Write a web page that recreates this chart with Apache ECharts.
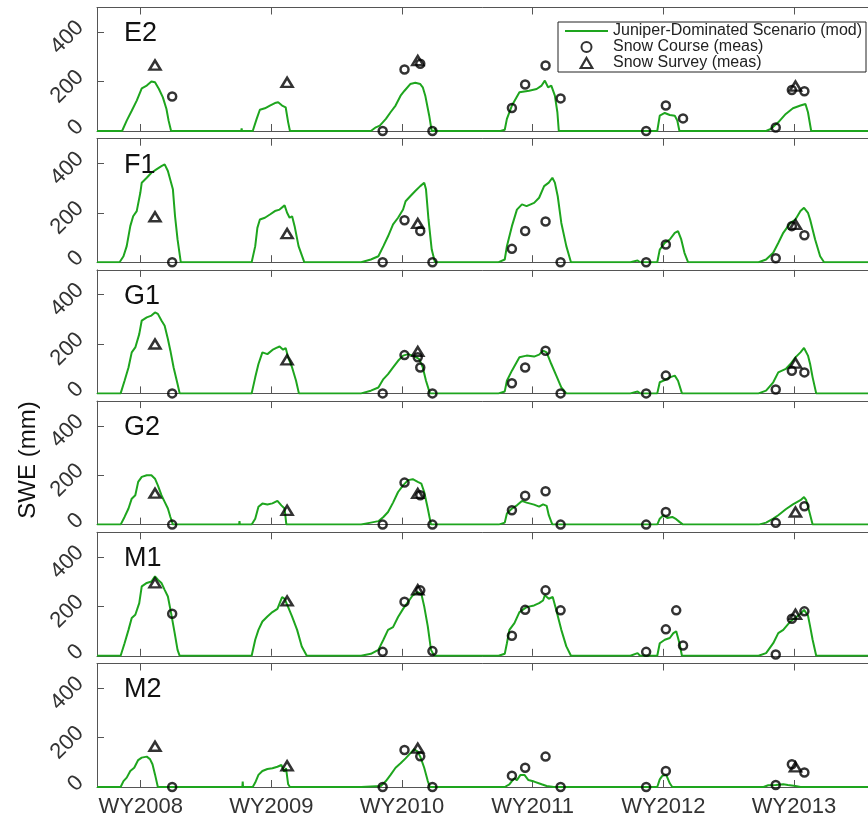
<!DOCTYPE html>
<html><head><meta charset="utf-8">
<script src="https://cdn.jsdelivr.net/npm/echarts@6/dist/echarts.min.js"></script>
<style>html,body{margin:0;padding:0;background:#fff}#c{width:868px;height:819px}</style>
</head><body><div id="c"></div>
<script>
// ---------------- DATA ----------------
const sites = ['E2', 'F1', 'G1', 'G2', 'M1', 'M2'];
const waterYears = [2008, 2009, 2010, 2011, 2012, 2013];
const tickLabels = ['WY2008', 'WY2009', 'WY2010', 'WY2011', 'WY2012', 'WY2013'];
const yTicks = [0, 200, 400];
const seriesNames = ['Juniper-Dominated Scenario (mod)', 'Snow Course (meas)', 'Snow Survey (meas)'];

// modelled SWE (mm): one array per water year, points are [day relative to 1 Jan of the WY, SWE]
const modE2 = [
  [[-52,0],[-39,42],[-25,82],[-11,123],[3,173],[17,184],[30,200],[40,197],[51,170],[62,136],[72,89],[78,42],[85,0]],
  [[-84,0],[-83,11],[-82,0],[-52,0],[-41,49],[-32,86],[-18,92],[-4,103],[10,113],[19,116],[30,103],[40,96],[47,35],[52,0]],
  [[-87,0],[-73,15],[-62,22],[-45,49],[-32,76],[-18,103],[-4,143],[7,163],[23,190],[37,195],[51,190],[58,177],[65,143],[76,62],[83,0],[91,0],[92,12],[93,0]],
  [[-90,0],[-78,5],[-72,49],[-58,103],[-37,157],[-10,163],[11,170],[25,184],[34,204],[43,177],[52,184],[62,143],[69,76],[73,0]],
  [[-17,0],[-10,62],[4,73],[18,65],[32,62],[39,42],[45,0]],
  [[-78,0],[-65,8],[-44,35],[-23,69],[-3,92],[18,103],[32,109],[39,76],[48,0]]
];
const modF1 = [
  [[-59,0],[-48,24],[-39,65],[-29,146],[-21,186],[-11,207],[-1,281],[3,322],[17,342],[30,362],[44,376],[58,389],[67,396],[76,369],[81,376],[90,295],[96,186],[103,92],[112,0]],
  [[-55,0],[-45,65],[-39,139],[-32,173],[-18,180],[-4,193],[10,207],[23,213],[37,230],[44,200],[51,180],[58,186],[65,146],[76,65],[92,0]],
  [[-114,0],[-87,11],[-66,24],[-52,65],[-39,105],[-25,153],[-11,180],[3,213],[10,247],[23,267],[37,288],[51,308],[62,322],[67,295],[74,173],[83,51],[92,0]],
  [[-95,0],[-78,11],[-72,65],[-58,146],[-44,213],[-30,234],[-17,227],[4,240],[18,261],[32,308],[45,322],[55,342],[62,322],[70,267],[80,159],[94,65],[107,0]],
  [[-92,0],[-72,7],[-65,0],[-17,0],[-10,51],[4,78],[18,92],[32,119],[41,126],[50,92],[59,38],[69,0]],
  [[-99,0],[-78,11],[-58,38],[-44,78],[-30,119],[-10,159],[4,173],[18,207],[28,220],[39,200],[45,173],[59,92],[73,24],[84,0]]
];
const modG1 = [
  [[-56,0],[-45,51],[-34,105],[-25,166],[-15,186],[-4,240],[3,295],[17,308],[30,315],[40,328],[48,322],[58,295],[67,274],[76,220],[83,173],[92,105],[103,38],[109,0]],
  [[-55,0],[-45,65],[-36,119],[-25,166],[-11,159],[3,176],[14,184],[23,190],[33,177],[40,184],[47,146],[58,105],[69,51],[77,0]],
  [[-114,0],[-87,11],[-66,24],[-52,58],[-39,78],[-25,105],[-11,132],[3,153],[17,159],[30,153],[40,146],[48,139],[58,105],[67,51],[78,0]],
  [[-95,0],[-78,8],[-72,51],[-58,92],[-37,146],[-17,153],[4,149],[18,157],[29,173],[39,166],[52,119],[66,72],[80,24],[94,0]],
  [[-92,0],[-72,8],[-65,0],[-17,0],[-10,45],[4,54],[18,65],[32,72],[41,51],[52,0]],
  [[-99,0],[-78,11],[-58,45],[-44,85],[-23,99],[-10,119],[4,146],[18,166],[28,184],[39,153],[45,119],[52,65],[62,0]]
];
const modG2 = [
  [[-56,0],[-45,31],[-34,65],[-25,105],[-15,119],[-7,173],[3,193],[17,200],[30,200],[40,186],[48,159],[58,119],[67,92],[76,65],[83,31],[90,0]],
  [[-90,0],[-89,14],[-88,0],[-55,0],[-45,24],[-36,72],[-25,85],[-11,81],[3,86],[17,96],[28,78],[37,65],[41,65],[42,0]],
  [[-114,0],[-87,8],[-66,14],[-52,31],[-39,51],[-25,89],[-11,132],[3,159],[17,180],[30,184],[44,173],[54,166],[62,132],[72,65],[81,0]],
  [[-95,0],[-78,8],[-72,45],[-58,65],[-44,78],[-30,96],[-17,89],[4,81],[18,73],[29,82],[39,76],[45,38],[55,0]],
  [[-17,0],[-10,24],[0,38],[11,27],[25,31],[36,22],[45,11],[55,0]],
  [[-99,0],[-78,8],[-58,24],[-44,38],[-23,62],[-3,82],[18,99],[28,112],[34,99],[43,51],[52,0]]
];
const modM1 = [
  [[-56,0],[-45,51],[-34,105],[-25,153],[-15,166],[-4,213],[3,281],[17,295],[30,301],[40,322],[48,308],[58,295],[67,267],[76,240],[85,173],[95,92],[103,24],[109,0]],
  [[-55,0],[-45,65],[-36,105],[-25,139],[-11,159],[3,177],[17,190],[30,238],[37,231],[47,197],[58,159],[72,105],[85,38],[99,0]],
  [[-114,0],[-87,8],[-66,24],[-52,65],[-39,105],[-25,116],[-11,157],[3,190],[17,218],[30,245],[44,258],[54,251],[62,200],[72,119],[81,24],[90,0]],
  [[-95,0],[-78,8],[-72,51],[-65,105],[-51,132],[-37,177],[-17,197],[4,204],[18,213],[29,224],[34,245],[45,231],[56,238],[66,184],[80,105],[94,38],[107,0]],
  [[-92,0],[-72,11],[-65,0],[-17,0],[-10,51],[4,65],[18,72],[28,92],[36,99],[45,51],[52,0]],
  [[-99,0],[-78,11],[-58,51],[-44,92],[-30,105],[-10,139],[4,154],[18,170],[28,186],[39,163],[45,119],[52,65],[62,0]]
];
const modM2 = [
  [[-56,0],[-48,24],[-39,38],[-29,65],[-18,78],[-7,109],[3,119],[17,123],[26,113],[33,92],[40,51],[48,0]],
  [[-81,0],[-80,22],[-79,0],[-52,0],[-45,18],[-36,49],[-25,65],[-11,73],[3,76],[17,82],[28,89],[36,62],[41,76],[47,11],[52,0]],
  [[-114,0],[-59,4],[-45,24],[-32,49],[-18,78],[-4,96],[10,116],[23,136],[34,153],[44,143],[51,123],[62,78],[72,24],[78,0]],
  [[-78,0],[-65,11],[-58,24],[-51,35],[-44,28],[-34,49],[-23,49],[-12,28],[4,22],[25,11],[39,4],[59,0]],
  [[-17,0],[-10,31],[-3,45],[8,49],[18,15],[25,0]],
  [[-85,0],[-72,7],[-51,8],[-30,11],[-17,8],[4,4],[18,0]]
];

// measurements: [water year, day relative to 1 Jan, SWE mm]
const courseE2 = [[2008,88,140],[2010,-54,0],[2010,7,249],[2010,51,272],[2010,85,0],[2011,-58,93],[2011,-21,188],[2011,36,265],[2011,78,132],[2012,-48,0],[2012,7,103],[2012,55,51],[2013,-51,14],[2013,-6,166],[2013,29,161]];
const surveyE2 = [[2008,40,267],[2009,44,197],[2010,44,285],[2013,4,182]];
const courseF1 = [[2008,88,0],[2010,-54,0],[2010,7,170],[2010,51,126],[2010,85,0],[2011,-58,54],[2011,-21,126],[2011,36,165],[2011,78,0],[2012,-48,0],[2012,7,72],[2013,-51,16],[2013,-6,146],[2013,29,109]];
const surveyF1 = [[2008,40,184],[2009,44,116],[2010,44,157],[2013,4,153]];
const courseG1 = [[2008,88,0],[2010,-54,0],[2010,7,155],[2010,44,146],[2010,51,105],[2010,85,0],[2011,-58,41],[2011,-21,105],[2011,36,173],[2011,78,0],[2012,-48,0],[2012,7,72],[2013,-51,16],[2013,-6,92],[2013,29,85]];
const surveyG1 = [[2008,40,200],[2009,44,136],[2010,44,170],[2013,4,123]];
const courseG2 = [[2008,88,0],[2010,-54,0],[2010,7,170],[2010,51,119],[2010,85,0],[2011,-58,58],[2011,-21,117],[2011,36,135],[2011,78,0],[2012,-48,0],[2012,7,51],[2013,-51,7],[2013,29,74]];
const surveyG2 = [[2008,40,127],[2009,44,58],[2010,44,126],[2013,4,51]];
const courseM1 = [[2008,88,170],[2010,-54,16],[2010,7,219],[2010,51,265],[2010,85,19],[2011,-58,81],[2011,-21,186],[2011,36,265],[2011,78,184],[2012,-48,16],[2012,7,107],[2012,36,184],[2012,55,42],[2013,-51,5],[2013,-6,150],[2013,29,180]];
const surveyM1 = [[2008,40,295],[2009,44,222],[2010,44,267],[2013,4,168]];
const courseM2 = [[2008,88,0],[2010,-54,0],[2010,7,150],[2010,51,124],[2010,85,0],[2011,-58,46],[2011,-21,78],[2011,36,123],[2011,78,0],[2012,-48,0],[2012,7,65],[2013,-51,8],[2013,-6,92],[2013,29,59]];
const surveyM2 = [[2008,40,165],[2009,44,86],[2010,44,157],[2013,4,81]];

const modelBySite = [modE2, modF1, modG1, modG2, modM1, modM2];
const courseBySite = [courseE2, courseF1, courseG1, courseG2, courseM1, courseM2];
const surveyBySite = [surveyE2, surveyF1, surveyG1, surveyG2, surveyM1, surveyM2];

// ---------------- CHART ----------------
const FONT = '"Liberation Sans", Arial, Helvetica, sans-serif';
const GREEN = '#1ea51e';
const AX = '#555';
const X_MIN = 2008 - 122 / 365;   // 1 Sep 2007
const X_MAX = X_MIN + 6;
const toX = (wy, d) => wy + d / 365;

const grids = [], xAxes = [], yAxes = [], series = [], titles = [];
sites.forEach((site, i) => {
  const top = 7.5 + i * 131.2;
  const last = i === sites.length - 1;
  grids.push({ left: 97, right: -13, top: top, height: 123.5, containLabel: false, outerBoundsMode: 'none' });
  const xCommon = {
    gridIndex: i, type: 'value', min: X_MIN, max: X_MAX,
    axisLine: { show: true, onZero: false, lineStyle: { color: AX, width: 1 } },
    splitLine: { show: false },
    axisTick: { show: true, inside: true, length: 7, customValues: waterYears, lineStyle: { color: AX } }
  };
  xAxes.push(Object.assign({}, xCommon, {
    position: 'bottom',
    axisLabel: {
      show: last, customValues: waterYears, margin: 9, hideOverlap: false,
      formatter: v => tickLabels[waterYears.indexOf(Math.round(v))] || '',
      fontSize: 22, fontFamily: FONT, color: '#333'
    }
  }));
  xAxes.push(Object.assign({}, xCommon, { position: 'top', axisLabel: { show: false } }));
  yAxes.push({
    gridIndex: i, type: 'value', min: 0, max: 500, position: 'left',
    axisLine: { show: true, lineStyle: { color: AX, width: 1 } },
    splitLine: { show: false },
    axisTick: { show: true, inside: true, length: 7, customValues: yTicks, lineStyle: { color: AX } },
    axisLabel: {
      customValues: yTicks, rotate: 45, margin: 9, verticalAlign: 'bottom',
      fontSize: 22, fontFamily: FONT, color: '#333'
    }
  });
  titles.push({
    text: site, left: 119, top: top + 8,
    textStyle: { fontSize: 27, fontWeight: 'normal', fontFamily: FONT, color: '#111' }
  });

  const lineData = [[X_MIN, 0]];
  modelBySite[i].forEach((season, k) => season.forEach(p => lineData.push([toX(waterYears[k], p[0]), p[1]])));
  lineData.push([X_MAX, 0]);

  series.push({
    type: 'line', name: seriesNames[0], xAxisIndex: 2 * i, yAxisIndex: i,
    data: lineData, symbol: 'none', showSymbol: false, z: 2,
    lineStyle: { color: GREEN, width: 2 }, itemStyle: { color: GREEN }, animation: false
  });
  series.push({
    type: 'scatter', name: seriesNames[1], xAxisIndex: 2 * i, yAxisIndex: i, z: 3,
    data: courseBySite[i].map(m => [toX(m[0], m[1]), m[2]]),
    symbol: 'circle', symbolSize: 8,
    itemStyle: { color: 'rgba(255,255,255,0)', borderColor: '#000', borderWidth: 2.5 },
    animation: false
  });
  series.push({
    type: 'scatter', name: seriesNames[2], xAxisIndex: 2 * i, yAxisIndex: i, z: 3,
    data: surveyBySite[i].map(m => [toX(m[0], m[1]), m[2]]),
    symbol: 'triangle', symbolSize: [11, 9],
    itemStyle: { color: 'rgba(255,255,255,0)', borderColor: '#000', borderWidth: 2.5 },
    animation: false
  });
});

const chart = echarts.init(document.getElementById('c'), null, { renderer: 'canvas' });
chart.setOption({
  animation: false,
  backgroundColor: '#fff',
  title: titles,
  grid: grids,
  xAxis: xAxes,
  yAxis: yAxes,
  series: series,
  legend: {
    orient: 'vertical', left: 558, top: 22,
    padding: [1, 4, 1, 7], itemGap: 0, itemWidth: 43, itemHeight: 10,
    borderColor: '#222', borderWidth: 1, backgroundColor: '#fff',
    selectedMode: false,
    textStyle: { fontSize: 16, lineHeight: 16, fontFamily: FONT, color: '#222' },
    data: [
      { name: seriesNames[0], icon: 'path://M0,0H43V2.2H0Z', itemStyle: { color: GREEN, borderWidth: 0 } },
      { name: seriesNames[1] },
      { name: seriesNames[2], icon: 'path://M5.5,0L11,9.5L0,9.5Z',
        itemStyle: { color: 'rgba(255,255,255,0)', borderColor: '#000', borderWidth: 2.2 } }
    ]
  },
  graphic: [{
    type: 'text', x: 28, y: 460, rotation: Math.PI / 2,
    style: { text: 'SWE (mm)', fontSize: 24, fontFamily: FONT, fill: '#111', align: 'center', verticalAlign: 'middle' }
  }]
});
</script>
</body></html>
